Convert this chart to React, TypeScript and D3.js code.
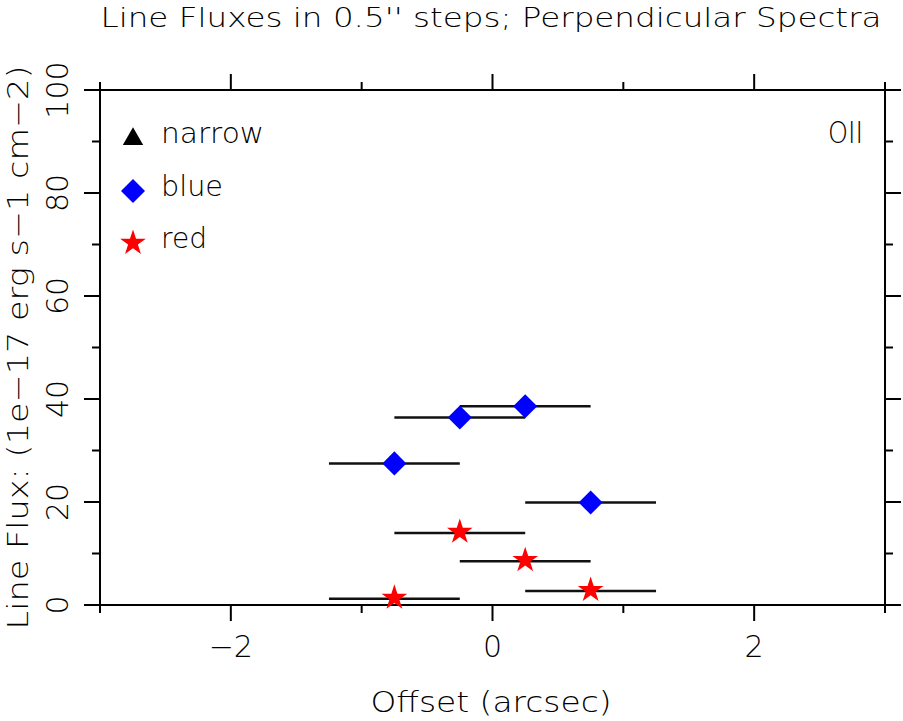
import React, { useEffect, useRef } from "react";
import * as d3 from "d3";

// offsets (arcsec) of the four perpendicular spectra
const offsets = [-0.75, -0.25, 0.25, 0.75];
const halfStep = 0.5;
const blueFlux = [27.5, 36.4, 38.6, 19.9];
const redFlux = [1.2, 14.0, 8.5, 2.7];

const xMajor = [-2, 0, 2];
const xMinor = [-3, -1, 1, 3];
const yMajor = [0, 20, 40, 60, 80, 100];
const yMinor = [10, 30, 50, 70, 90];

const legendItems = [
  { label: "narrow", kind: "triangle", color: "black", len: 103 },
  { label: "blue", kind: "diamond", color: "blue", len: 62 },
  { label: "red", kind: "star", color: "red", len: 46 },
];

const App = () => {
  const ref = useRef(null);

  useEffect(() => {
    const width = 903;
    const height = 721;
    const margin = { top: 90, right: 18, bottom: 116, left: 100 };
    const font = "'DejaVu Sans ExtraLight', 'DejaVu Sans', sans-serif";
    const weight = 200;

    d3.select(ref.current).selectAll("*").remove();
    const svg = d3.select(ref.current).attr("width", width).attr("height", height);

    const x = d3.scaleLinear().domain([-3, 3]).range([margin.left, width - margin.right]);
    const y = d3.scaleLinear().domain([0, 100]).range([height - margin.bottom, margin.top]);

    const [x0, x1] = x.range();
    const [y0, y1] = y.range();

    // cadre
    svg.append("rect")
      .attr("x", x0).attr("y", y1)
      .attr("width", x1 - x0).attr("height", y0 - y1)
      .attr("fill", "none").attr("stroke", "black").attr("stroke-width", 2);

    const ticks = svg.append("g").attr("stroke", "black").attr("stroke-width", 2);
    const major = 16;
    const minor = 8;
    const drawX = (vals, len) => {
      vals.forEach(v => {
        ticks.append("line").attr("x1", x(v)).attr("x2", x(v)).attr("y1", y0).attr("y2", y0 + len);
        ticks.append("line").attr("x1", x(v)).attr("x2", x(v)).attr("y1", y1).attr("y2", y1 - len);
      });
    };
    const drawY = (vals, len) => {
      vals.forEach(v => {
        ticks.append("line").attr("y1", y(v)).attr("y2", y(v)).attr("x1", x0).attr("x2", x0 - len);
        ticks.append("line").attr("y1", y(v)).attr("y2", y(v)).attr("x1", x1).attr("x2", x1 + len);
      });
    };
    drawX(xMajor, major);
    drawX(xMinor, minor);
    drawY(yMajor, major);
    drawY(yMinor, minor);

    const txt = sel => sel.attr("font-family", font).attr("font-weight", weight).attr("fill", "black");

    // labels des ticks
    svg.append("g").selectAll("text")
      .data(xMajor).enter().append("text")
      .attr("x", d => x(d)).attr("y", 657)
      .attr("text-anchor", "middle")
      .attr("font-size", 30)
      .call(txt)
      .text(d => (d < 0 ? "\u2212" + Math.abs(d) : String(d)));

    svg.append("g").selectAll("text")
      .data(yMajor).enter().append("text")
      .attr("transform", d => `translate(68, ${y(d)}) rotate(-90)`)
      .attr("text-anchor", "middle")
      .attr("font-size", 30)
      .call(txt)
      .text(d => String(d));

    // titres
    svg.append("text")
      .attr("x", 491).attr("y", 27)
      .attr("text-anchor", "middle")
      .attr("font-size", 27)
      .attr("textLength", 781).attr("lengthAdjust", "spacingAndGlyphs")
      .call(txt)
      .text("Line Fluxes in 0.5'' steps; Perpendicular Spectra");

    svg.append("text")
      .attr("x", 491).attr("y", 712)
      .attr("text-anchor", "middle")
      .attr("font-size", 29)
      .attr("textLength", 241).attr("lengthAdjust", "spacingAndGlyphs")
      .call(txt)
      .text("Offset (arcsec)");

    svg.append("text")
      .attr("transform", `translate(28, ${(y0 + y1) / 2}) rotate(-90)`)
      .attr("text-anchor", "middle")
      .attr("font-size", 29)
      .attr("textLength", 564).attr("lengthAdjust", "spacingAndGlyphs")
      .call(txt)
      .text("Line Flux: (1e\u221217 erg s\u22121 cm\u22122)");

    svg.append("text")
      .attr("x", 863).attr("y", 143)
      .attr("text-anchor", "end")
      .attr("font-size", 30)
      .attr("textLength", 35).attr("lengthAdjust", "spacingAndGlyphs")
      .call(txt)
      .text("OII");

    // symboles
    const symbolPath = kind => {
      if (kind === "triangle") return d3.symbol(d3.symbolTriangle, 180)();
      if (kind === "diamond") return d3.symbol(d3.symbolSquare, 289)();
      return d3.symbol(d3.symbolStar, 205)();
    };
    const symbolTransform = (kind, cx, cy) =>
      kind === "diamond" ? `translate(${cx},${cy}) rotate(45)` : `translate(${cx},${cy})`;

    // barres d'erreur horizontales
    const bars = svg.append("g").attr("stroke", "#111").attr("stroke-width", 2.5);
    [blueFlux, redFlux].forEach(series => {
      series.forEach((v, i) => {
        bars.append("line")
          .attr("x1", x(offsets[i] - halfStep)).attr("x2", x(offsets[i] + halfStep))
          .attr("y1", y(v)).attr("y2", y(v));
      });
    });

    const marks = svg.append("g");
    blueFlux.forEach((v, i) => {
      marks.append("path")
        .attr("d", symbolPath("diamond"))
        .attr("transform", symbolTransform("diamond", x(offsets[i]), y(v)))
        .attr("fill", "blue");
    });
    redFlux.forEach((v, i) => {
      marks.append("path")
        .attr("d", symbolPath("star"))
        .attr("transform", symbolTransform("star", x(offsets[i]), y(v) - 1))
        .attr("fill", "red");
    });

    // légende
    const legend = svg.append("g");
    legendItems.forEach((item, i) => {
      const cy = 139 + i * 52;
      legend.append("path")
        .attr("d", symbolPath(item.kind))
        .attr("transform", symbolTransform(item.kind, 133, cy))
        .attr("fill", item.color);
      legend.append("text")
        .attr("x", 161).attr("y", cy + 5 + (i === 0 ? -1 : 0))
        .attr("font-size", 28)
        .attr("textLength", item.len).attr("lengthAdjust", "spacingAndGlyphs")
        .call(txt)
        .text(item.label);
    });
  }, []);

  return (
    <div style={{ position: "absolute", left: 0, top: 0 }}>
      <svg ref={ref} style={{ display: "block" }}></svg>
    </div>
  );
};

export default App;
